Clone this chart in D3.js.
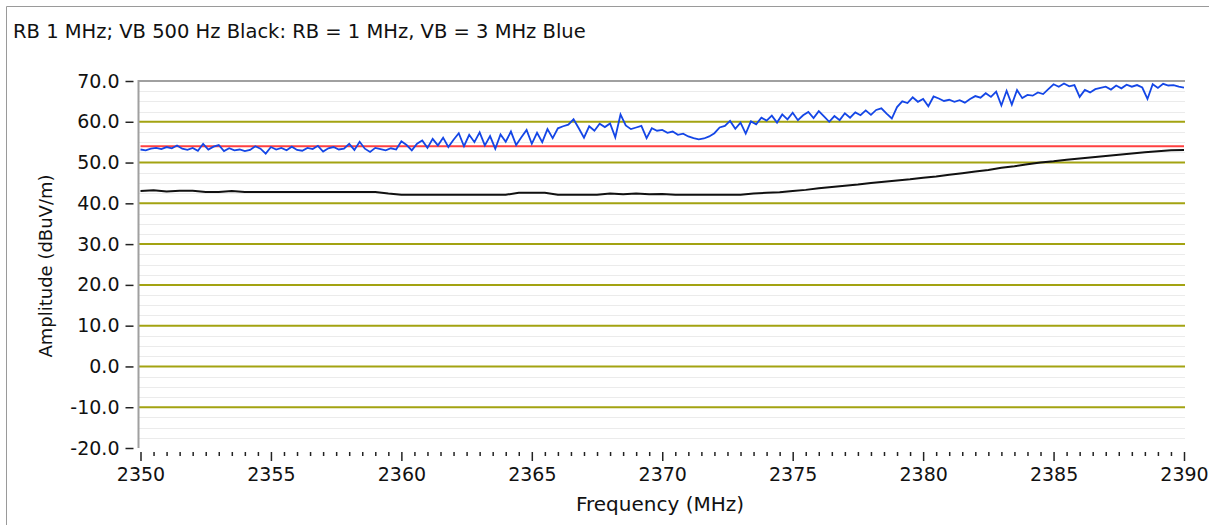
<!DOCTYPE html>
<html>
<head>
<meta charset="utf-8">
<script src="https://cdn.jsdelivr.net/npm/d3@7"></script>
<style>
  html, body { margin: 0; padding: 0; background: #fff; }
  svg { display: block; }
  text { font-family: "DejaVu Sans", sans-serif; fill: #111; }
</style>
</head>
<body>
<svg id="chart" width="1209" height="525"></svg>
<script>
// ---------- data ----------
const titleText = "RB 1 MHz; VB 500 Hz Black: RB = 1 MHz, VB = 3 MHz Blue";
const xTitle = "Frequency (MHz)";
const yTitle = "Amplitude (dBuV/m)";
const xTicks = [2350, 2355, 2360, 2365, 2370, 2375, 2380, 2385, 2390];
const yTicks = [-20, -10, 0, 10, 20, 30, 40, 50, 60, 70];

// Blue trace (VB = 3 MHz), 0.2 MHz steps from 2350 to 2390
const blueStart = 2350, blueStep = 0.2;
const blueValues = [
  53.2,53.0,53.4,53.6,53.3, 53.8,53.5,54.2,53.4,53.1,
  53.6,52.9,54.6,53.2,53.9, 54.3,52.8,53.5,53.0,53.2,
  52.8,53.1,54.0,53.4,52.2, 53.8,53.2,53.6,53.0,53.9,
  53.1,52.9,53.6,53.3,54.1, 52.7,53.5,53.8,53.2,53.4,
  54.6,53.1,55.1,53.4,52.6, 53.6,53.3,53.0,53.5,53.2,
  55.2,54.3,53.0,54.6,55.4, 53.6,55.8,54.2,56.1,53.8,
  55.6,57.2,54.0,56.8,55.0, 57.4,54.2,56.5,53.4,56.9,
  55.1,57.6,54.3,56.2,58.0, 54.6,57.3,55.0,58.2,56.0,
  58.4,58.9,59.3,60.6,58.4, 56.1,58.9,57.8,59.5,58.7,
  59.6,56.2,61.8,59.1,58.2, 58.6,59.0,56.0,58.4,57.8,
  58.0,57.3,57.6,56.8,57.1, 56.4,56.0,55.7,55.9,56.4,
  57.2,58.6,59.0,60.2,58.3, 59.8,57.1,60.1,59.4,61.0,
  60.3,61.5,59.8,61.8,60.6, 62.2,60.4,61.6,62.4,60.9,
  62.6,61.3,60.0,61.4,60.4, 62.1,61.0,62.3,61.6,62.8,
  61.7,62.9,63.3,62.0,60.8, 63.6,65.0,64.6,66.0,64.9,
  65.6,63.8,66.2,65.7,65.1, 65.4,64.9,65.3,64.7,65.6,
  66.3,65.9,67.0,66.1,67.4, 64.0,67.6,64.2,67.8,65.8,
  66.6,66.4,67.2,66.8,68.0, 69.2,68.6,69.4,68.7,69.0,
  66.1,67.8,67.2,68.0,68.3, 68.6,67.9,68.9,68.2,69.1,
  68.6,69.0,68.4,65.6,69.2, 68.3,69.3,68.9,69.0,68.6,
  68.4
];

// Black trace (VB = 500 Hz), 0.5 MHz steps from 2350 to 2390
const blackStart = 2350, blackStep = 0.5;
const blackValues = [
  43.0,43.2,42.9,43.1,43.1,42.8,42.8,43.0,42.8,42.8,
  42.8,42.8,42.8,42.8,42.8,42.8,42.8,42.8,42.8,42.4,
  42.1,42.1,42.1,42.1,42.1,42.1,42.1,42.1,42.1,42.6,
  42.6,42.6,42.1,42.1,42.1,42.1,42.4,42.2,42.4,42.2,
  42.3,42.1,42.1,42.1,42.1,42.1,42.1,42.4,42.6,42.7,
  43.0,43.3,43.7,44.0,44.3,44.6,45.0,45.3,45.6,45.9,
  46.3,46.6,47.0,47.4,47.8,48.2,48.7,49.1,49.6,50.0,
  50.3,50.7,51.0,51.3,51.6,51.9,52.2,52.5,52.8,53.0,
  53.1
];

// Red limit line
const limitFreqs = [2350, 2390];
const limitValues = [54, 54];

// ---------- drawing ----------
const svg = d3.select("#chart");
const W = 1209, H = 525;
const plotLeft = 138.5, plotRight = 1185, plotTop = 81, plotBottom = 448;

const x = d3.scaleLinear().domain([2350, 2390]).range([140.5, 1184]);
const y = d3.scaleLinear().domain([-20, 70]).range([plotBottom, plotTop]);

// outer frame
svg.append("path")
  .attr("d", `M6.5,${H} V6.5 H${W}`)
  .attr("fill", "none").attr("stroke", "#9a9a9a").attr("stroke-width", 1);

// title
svg.append("text").attr("x", 13).attr("y", 38)
  .attr("font-size", 19.5).text(titleText);

// minor gridlines every 2.5
const minor = d3.range(-17.5, 70, 2.5).filter(v => v % 10 !== 0);
svg.append("g").selectAll("line").data(minor).join("line")
  .attr("x1", plotLeft).attr("x2", plotRight)
  .attr("y1", d => Math.round(y(d)) + 0.5).attr("y2", d => Math.round(y(d)) + 0.5)
  .attr("stroke", "#ebebeb").attr("stroke-width", 1);

// major gridlines (olive)
svg.append("g").selectAll("line").data(yTicks.filter(v => v > -20 && v < 70)).join("line")
  .attr("x1", plotLeft).attr("x2", plotRight)
  .attr("y1", d => y(d)).attr("y2", d => y(d))
  .attr("stroke", "#a3a312").attr("stroke-width", 2);

// plot top border and left axis line
svg.append("path")
  .attr("d", `M${plotLeft},${plotBottom} V${plotTop} H${plotRight}`)
  .attr("fill", "none").attr("stroke", "#a0a0a0").attr("stroke-width", 2);

const fmtY = v => d3.format(".1f")(v).replace("\u2212", "-");

// y axis
const yAxis = d3.axisLeft(y).tickValues(yTicks).tickSize(8).tickPadding(6)
  .tickFormat(fmtY);
const gy = svg.append("g").attr("transform", `translate(${plotLeft - 5},0)`).call(yAxis);
gy.select(".domain").remove();
gy.selectAll(".tick line").attr("stroke", "#222").attr("stroke-width", 1.5);
gy.selectAll(".tick text").attr("font-size", 19).attr("fill", "#111")
  .attr("font-family", "DejaVu Sans, sans-serif");

// x axis minor ticks
const xMinor = d3.range(2350, 2390.01, 0.5).filter(v => v % 5 !== 0);
const xAxisMinor = d3.axisBottom(x).tickValues(xMinor).tickSize(4).tickFormat("");
const gxm = svg.append("g").attr("transform", `translate(0,${plotBottom + 4})`).call(xAxisMinor);
gxm.select(".domain").remove();
gxm.selectAll(".tick line").attr("stroke", "#222").attr("stroke-width", 1.5);

// x axis major ticks
const xAxis = d3.axisBottom(x).tickValues(xTicks).tickSize(9).tickPadding(7)
  .tickFormat(d3.format("d"));
const gx = svg.append("g").attr("transform", `translate(0,${plotBottom + 4})`).call(xAxis);
gx.select(".domain").remove();
gx.selectAll(".tick line").attr("stroke", "#222").attr("stroke-width", 1.5);
gx.selectAll(".tick text").attr("font-size", 19).attr("fill", "#111")
  .attr("font-family", "DejaVu Sans, sans-serif");

// axis titles
svg.append("text").attr("x", 660).attr("y", 511).attr("text-anchor", "middle")
  .attr("font-size", 20).text(xTitle);
svg.append("text").attr("transform", "translate(52,266) rotate(-90)")
  .attr("text-anchor", "middle").attr("font-size", 18).text(yTitle);

// series
const line = d3.line().x(d => x(d[0])).y(d => y(d[1]));
const bluePts = blueValues.map((v, i) => [blueStart + i * blueStep, v]);
const blackPts = blackValues.map((v, i) => [blackStart + i * blackStep, v]);
const limitPts = limitFreqs.map((f, i) => [f, limitValues[i]]);

svg.append("path").datum(limitPts).attr("d", line)
  .attr("fill", "none").attr("stroke", "#ff4040").attr("stroke-width", 2);
svg.append("path").datum(blackPts).attr("d", line)
  .attr("fill", "none").attr("stroke", "#111").attr("stroke-width", 2);
svg.append("path").datum(bluePts).attr("d", line)
  .attr("fill", "none").attr("stroke", "#1446e6").attr("stroke-width", 1.8);
</script>
</body>
</html>
